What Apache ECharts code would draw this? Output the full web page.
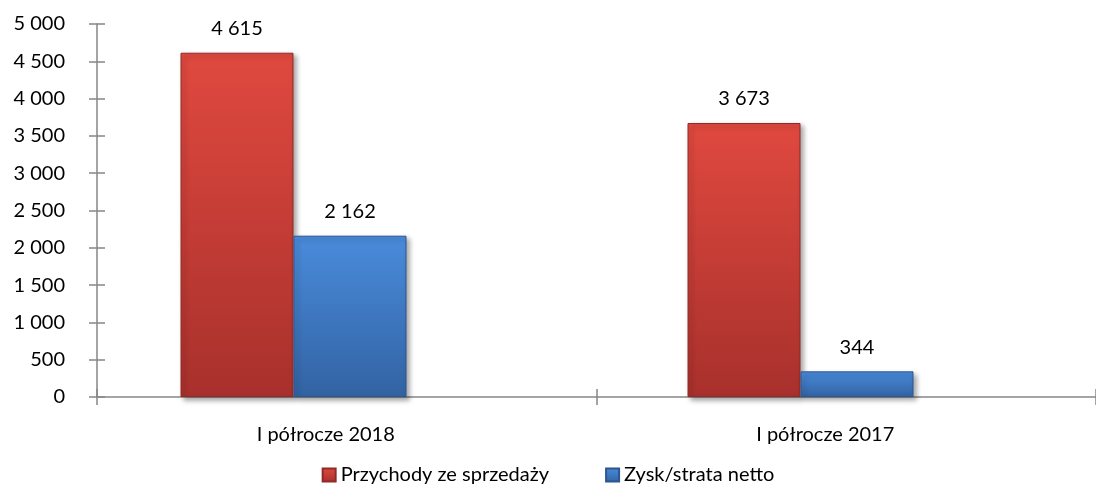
<!DOCTYPE html>
<html>
<head>
<meta charset="utf-8">
<script src="https://cdn.jsdelivr.net/npm/echarts@6/dist/echarts.min.js"></script>
<style>
  html, body { margin: 0; padding: 0; background: #fff; }
  #chart { width: 1096px; height: 490px; }
</style>
</head>
<body>
<div id="chart"></div>
<script>
// chart data
var categories = ['I półrocze 2018', 'I półrocze 2017']
var przychody = [4615, 3673]
var zysk = [2162, 344]
var seriesNames = ['Przychody ze sprzedaży', 'Zysk/strata netto']
var yTicks = [0, 500, 1000, 1500, 2000, 2500, 3000, 3500, 4000, 4500, 5000]

var font = 'Lato'
var fontSize = 20
var axisColor = '#868686'

function fmt(v) {
    return String(v).replace(/\B(?=(\d{3})+(?!\d))/g, ' ')
}

function grad(top, bottom) {
    return new echarts.graphic.LinearGradient(0, 0, 0, 1, [
        { offset: 0, color: top },
        { offset: 1, color: bottom }
    ])
}

var barShadow = {
    shadowColor: 'rgba(0,0,0,0.35)',
    shadowBlur: 5,
    shadowOffsetX: 3,
    shadowOffsetY: 3
}

var labelStyle = {
    show: true,
    position: 'top',
    distance: 14,
    color: '#000',
    fontFamily: font,
    fontSize: fontSize,
    formatter: function (p) { return fmt(p.value) }
}

var chart = echarts.init(document.getElementById('chart'))
chart.setOption({
    backgroundColor: '#fff',
    animation: false,
    textStyle: { fontFamily: font },
    legend: {
        bottom: 0,
        left: 'center',
        icon: 'rect',
        itemWidth: 13,
        itemHeight: 13,
        itemGap: 56,
        textStyle: { color: '#000', fontSize: fontSize, fontFamily: font },
        data: seriesNames
    },
    grid: [
        // visible axes
        { left: 97, right: -11, top: 24, bottom: 93 },
        // bars
        { left: 40, right: 42, top: 24, bottom: 93 }
    ],
    xAxis: [
        {
            type: 'category',
            gridIndex: 0,
            data: categories,
            axisLine: { lineStyle: { color: axisColor, width: 1.5 } },
            axisTick: { show: true, length: 8, lineStyle: { color: axisColor, width: 1.5 } },
            axisLabel: {
                color: '#000',
                fontSize: fontSize,
                fontFamily: font,
                margin: 28,
                padding: [0, 42, 0, 0]
            }
        },
        {
            type: 'category',
            gridIndex: 0,
            data: categories,
            position: 'bottom',
            axisLine: { show: false },
            axisTick: { show: true, inside: true, length: 8, lineStyle: { color: axisColor, width: 1.5 } },
            axisLabel: { show: false }
        },
        {
            type: 'category',
            gridIndex: 1,
            data: categories,
            show: false
        }
    ],
    yAxis: [
        {
            type: 'value',
            gridIndex: 0,
            min: yTicks[0],
            max: yTicks[yTicks.length - 1],
            interval: 500,
            splitLine: { show: false },
            axisLine: { show: true, lineStyle: { color: axisColor, width: 1.5 } },
            axisTick: { show: true, length: 8, lineStyle: { color: axisColor, width: 1.5 } },
            axisLabel: {
                color: '#000',
                fontSize: fontSize,
                fontFamily: font,
                margin: 32,
                formatter: fmt
            }
        },
        {
            type: 'value',
            gridIndex: 0,
            min: yTicks[0],
            max: yTicks[yTicks.length - 1],
            interval: 500,
            position: 'left',
            offset: 0,
            splitLine: { show: false },
            axisLine: { show: false },
            axisTick: { show: true, inside: true, length: 8, lineStyle: { color: axisColor, width: 1.5 } },
            axisLabel: { show: false }
        },
        {
            type: 'value',
            gridIndex: 1,
            min: yTicks[0],
            max: yTicks[yTicks.length - 1],
            show: false
        }
    ],
    series: [
        {
            name: seriesNames[0],
            type: 'bar',
            xAxisIndex: 2,
            yAxisIndex: 2,
            data: przychody,
            barWidth: 113,
            barGap: '0%',
            itemStyle: Object.assign({
                color: grad('#e0493f', '#a8302c'),
                borderColor: '#8f2a27',
                borderWidth: 1
            }, barShadow),
            label: labelStyle
        },
        {
            name: seriesNames[1],
            type: 'bar',
            xAxisIndex: 2,
            yAxisIndex: 2,
            data: zysk,
            barWidth: 113,
            barGap: '0%',
            itemStyle: Object.assign({
                color: grad('#4a8bdb', '#3263a3'),
                borderColor: '#2c5690',
                borderWidth: 1
            }, barShadow),
            label: labelStyle
        }
    ]
})
</script>
</body>
</html>
